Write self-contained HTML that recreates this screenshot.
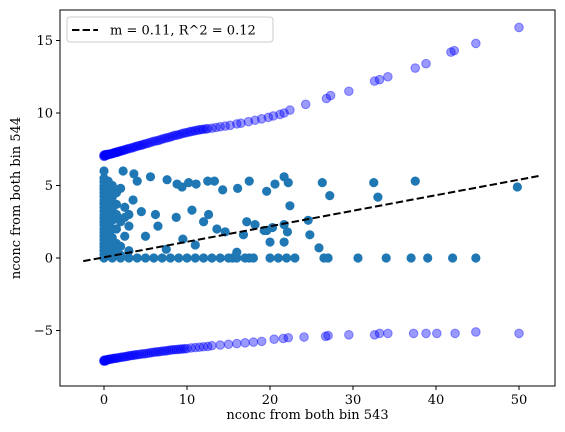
<!DOCTYPE html>
<html><head><meta charset="utf-8"><style>
body{margin:0;background:#fff}
svg{display:block;font-family:"DejaVu Serif","Liberation Serif",serif}
</style></head><body>
<svg id="chart" width="565" height="432"></svg>
<script>
const upperX=[0,0,0,0.1,0.1,0.2,0.2,0.3,0.3,0.4,0.5,0.6,0.7,0.8,0.9,1,1.1,1.2,1.3,1.4,1.5,1.6,1.7,1.8,1.9,2,2.15,2.3,2.45,2.6,2.8,3,3.2,3.4,3.6,3.8,4,4.2,4.4,4.6,4.8,5,5.25,5.5,5.75,6,6.25,6.5,6.75,7,7.25,7.5,7.75,8,8.25,8.5,8.75,9,9.25,9.5,9.75,10,10.3,10.5,10.8,11,11.3,11.5,11.8,12,12.3,12.5,13,13.5,14,14.6,15.2,16,16.5,17.4,18.2,19,19.8,20.4,21.2,21.7,22.4,24.3,26.8,27.3,29.5,32.6,33.2,34.2,37.5,38.8,41.8,42.2,44.8,50];
const upperY=[7.05,7.1,7.0,7.07,7.12,7.1,7.05,7.1,7.15,7.12,7.13,7.15,7.16,7.18,7.19,7.2,7.22,7.25,7.26,7.28,7.29,7.3,7.32,7.35,7.36,7.38,7.4,7.42,7.45,7.48,7.51,7.55,7.57,7.6,7.64,7.68,7.71,7.75,7.77,7.8,7.84,7.88,7.91,7.95,8.0,8.05,8.07,8.1,8.15,8.2,8.24,8.28,8.31,8.35,8.4,8.45,8.47,8.5,8.55,8.6,8.63,8.65,8.7,8.72,8.76,8.78,8.82,8.84,8.87,8.88,8.9,8.92,8.95,9.0,9.05,9.1,9.15,9.25,9.3,9.4,9.5,9.6,9.7,9.8,9.9,10.0,10.2,10.6,11.0,11.2,11.5,12.2,12.3,12.5,13.1,13.4,14.2,14.3,14.8,15.9];
const lowerX=[0,0,0,0.1,0.1,0.2,0.2,0.3,0.4,0.5,0.6,0.7,0.85,1,1.15,1.3,1.45,1.6,1.8,2,2.2,2.4,2.6,2.8,3,3.2,3.4,3.6,3.8,4,4.25,4.5,4.75,5,5.25,5.5,5.75,6,6.25,6.5,6.75,7,7.25,7.5,7.75,8,8.25,8.5,8.75,9,9.25,9.5,9.75,10,10.5,11,11.5,12,12.5,13,14,15,16,17,18,19,20.5,21.6,22.2,24.1,26.7,27,29.5,32.6,33.2,34.2,37.3,38.8,40.1,42.3,44.8,50];
const lowerY=[-7.1,-7.05,-7.12,-7.08,-7.05,-7.05,-7.1,-7.03,-7.02,-7.0,-6.99,-6.98,-6.97,-6.95,-6.93,-6.92,-6.91,-6.9,-6.87,-6.85,-6.83,-6.82,-6.8,-6.78,-6.75,-6.73,-6.72,-6.7,-6.68,-6.67,-6.65,-6.62,-6.61,-6.6,-6.57,-6.55,-6.52,-6.5,-6.48,-6.47,-6.45,-6.43,-6.41,-6.4,-6.37,-6.35,-6.33,-6.32,-6.31,-6.3,-6.28,-6.27,-6.26,-6.25,-6.2,-6.18,-6.15,-6.12,-6.1,-6.05,-6.0,-5.95,-5.9,-5.85,-5.8,-5.75,-5.6,-5.55,-5.5,-5.45,-5.4,-5.35,-5.3,-5.3,-5.2,-5.2,-5.2,-5.2,-5.2,-5.2,-5.1,-5.2];
const scatX=[0,0,0,0,0,0,0,0,0,0,0,0,0,0,0,0,0,0,0,0,0,0,0,0,0.5,0.5,0.5,0.5,0.5,0.5,0.5,0.5,0.5,0.5,0.5,0.5,1,1,1,1,1,1,1,1,1,1,1.5,1.5,1.5,1.5,1.5,1.5,2,2,2,2,2.5,2.5,2.5,3,3,3.5,
2.3,3.6,5.6,7.6,8.8,9.4,10.2,11.1,12.5,13.3,14.3,16.1,17.5,19.6,20.6,21.7,22.2,22.4,26.3,27.2,32.5,33,37.5,49.8,
6.2,8.7,10.6,12,12.6,13.6,14.6,16.8,17.2,18.2,19.6,20.3,21.7,22.1,20,21.7,24.6,24.8,25.9,16,19.3,4.5,5,6.5,7.5,9.5,11,4,3,
1,2,3,4,5,6,7,8,9,10,11,12,13,14,15,15.5,16,17,17.5,18,20,21,22,23,26.5,27,30.6,34,37,39,42,44.8];
const scatY=[0,0.25,0.5,0.75,1,1.25,1.5,1.75,2,2.25,2.5,2.75,3,3.25,3.5,3.75,4,4.25,4.5,4.75,5,5.25,5.5,6,0.3,0.7,1.2,1.6,2.1,2.6,3,3.4,3.8,4.2,4.6,5.3,0.2,0.5,1,1.4,2,2.6,3.4,3.8,4.2,5,0.4,1,2,3,3.7,4.5,0.2,0.8,2.5,4.8,1.5,2.8,3.5,0.5,2.2,4,
6.0,5.8,5.6,5.4,5.1,4.9,5.2,5.1,5.3,5.3,4.7,4.8,5.3,4.6,5.1,5.6,5.2,3.6,5.2,4.3,5.2,4.2,5.3,4.9,
3.0,2.8,3.3,2.5,3.0,2.0,1.8,1.6,2.5,2.3,1.9,2.1,2.3,1.8,1.1,1.1,2.6,1.6,0.7,0.4,1.9,3.2,1.5,2.2,0.6,1.3,0.9,5.3,3.0,
0,0,0,0,0,0,0,0,0,0,0,0,0,0,0,0,0,0,0,0,0,0,0,0,0,0,0,0,0,0,0,0];
const xTicks=[0,10,20,30,40,50];
const yTicks=[-5,0,5,10,15];
const fitM=0.107, fitB=0.05, fitRange=[-2.5,52.5];
const L=60,R=555,T=10,B=386;
const X=v=>104+v*8.3, Y=v=>258-v*14.5;
const s=document.getElementById('chart'),NS='http://www.w3.org/2000/svg';
function mk(t,a,p){const e=document.createElementNS(NS,t);for(const k in a)e.setAttribute(k,a[k]);(p||s).appendChild(e);return e;}
const gS=mk('g',{});


scatX.forEach((x,i)=>{const c=mk('circle',{cx:X(x),cy:Y(scatY[i]),r:4.6,fill:'#1f77b4'},gS);

});
function blue(xs,ys,g,nm){xs.forEach((x,i)=>{const c=mk('circle',{cx:X(x),cy:Y(ys[i]),r:4.3,fill:'blue','fill-opacity':0.4,stroke:'blue','stroke-opacity':0.4,'stroke-width':1},g);

});}
const gU=mk('g',{});


blue(upperX,upperY,gU,'upper-point');
const gL=mk('g',{});


blue(lowerX,lowerY,gL,'lower-point');
const fl=mk('line',{x1:X(fitRange[0]),y1:Y(fitM*fitRange[0]+fitB),x2:X(fitRange[1]),y2:Y(fitM*fitRange[1]+fitB),stroke:'#000','stroke-width':2,'stroke-dasharray':'7.4,3.2'});


const fr=mk('rect',{x:L,y:T,width:R-L,height:B-T,fill:'none',stroke:'#000','stroke-width':1});


xTicks.forEach(v=>{mk('line',{x1:X(v),x2:X(v),y1:B,y2:B+4,stroke:'#000'});
const t=mk('text',{x:X(v),y:B+18,'text-anchor':'middle','font-size':13});t.textContent=v;

});
yTicks.forEach(v=>{mk('line',{x1:L-4,x2:L,y1:Y(v),y2:Y(v),stroke:'#000'});
const t=mk('text',{x:L-7,y:Y(v)+4.5,'text-anchor':'end','font-size':13});t.textContent=v===-5?'\u22125':v;

});
const xt=mk('text',{x:(L+R)/2,y:419,'text-anchor':'middle','font-size':13});xt.textContent='nconc from both bin 543';


const yt=mk('text',{x:0,y:0,'text-anchor':'middle','font-size':13,transform:'translate(20,198) rotate(-90)'});yt.textContent='nconc from both bin 544';


const lg=mk('g',{});


mk('rect',{x:67,y:17,width:206,height:25,rx:3,fill:'#fff',stroke:'#ccc'},lg);
mk('line',{x1:72,x2:98,y1:30,y2:30,stroke:'#000','stroke-width':2,'stroke-dasharray':'7.4,3.2'},lg);
const lt=mk('text',{x:110,y:34.5,'font-size':13},lg);lt.textContent='m = 0.11, R^2 = 0.12';


</script>
</body></html>
